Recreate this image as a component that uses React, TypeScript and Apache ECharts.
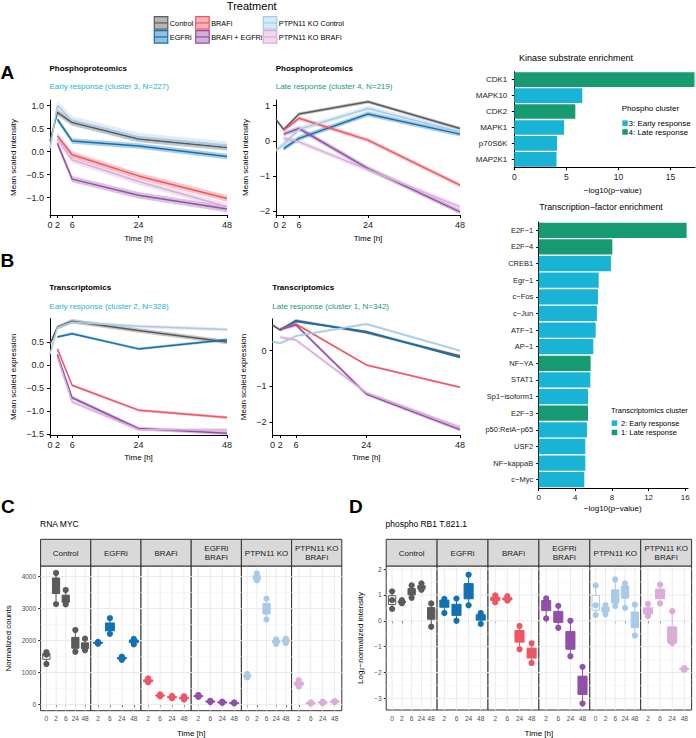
import React, { useEffect, useRef } from "react";
import * as echarts from "echarts";

const FONT = "'Liberation Sans', Arial, Helvetica, sans-serif";
const MINUS = "\u2212";

// ---------------- data ----------------
const TREATMENTS = ["Control", "EGFRi", "BRAFi", "BRAFi + EGFRi", "PTPN11 KO Control", "PTPN11 KO BRAFi"];
const TREATMENT_COLORS = ["#5b5b5b", "#1271b3", "#ee5664", "#9250a9", "#a9cae6", "#d9add7"];
const IS_CONTROL = [true, false, false, false, true, false];
const CONTROL_TIMES = [0, 2, 6, 24, 48];
const TREATED_TIMES = [2, 6, 24, 48];
const TIME_TICKS = [0, 2, 6, 24, 48];

// mean scaled profiles (controls: 0,2,6,24,48 h; treated: 2,6,24,48 h)
const PHOS_EARLY_MEAN = [
  [0.22, 0.85, 0.63, 0.27, 0.09],
  [0.7, 0.23, 0.12, -0.11],
  [0.34, -0.07, -0.53, -1.02],
  [0.18, -0.6, -0.95, -1.25],
  [0.07, 1.0, 0.67, 0.31, 0.12],
  [0.27, -0.18, -0.65, -1.2],
];
const PHOS_EARLY_BAND = [0.07, 0.06, 0.07, 0.07, 0.1, 0.07];

const PHOS_LATE_MEAN = [
  [0.61, 0.32, 0.76, 1.11, 0.35],
  [-0.22, 0.07, 0.76, 0.19],
  [0.3, 0.64, 0.02, -1.26],
  [0.19, 0.35, -0.79, -2.02],
  [-0.27, -0.1, 0.33, 0.92, 0.26],
  [0.07, -0.03, -0.82, -1.88],
];
const PHOS_LATE_BAND = [0.05, 0.07, 0.06, 0.07, 0.08, 0.07];

const TRANS_EARLY_MEAN = [
  [0.46, 0.82, 0.95, 0.75, 0.5],
  [0.61, 0.68, 0.35, 0.55],
  [0.35, -0.44, -0.98, -1.14],
  [0.23, -0.71, -1.38, -1.48],
  [0.24, 0.81, 0.93, 0.84, 0.77],
  [0.17, -0.8, -1.4, -1.41],
];
const TRANS_EARLY_BAND = [0.05, 0.03, 0.03, 0.04, 0.04, 0.04];

const TRANS_LATE_MEAN = [
  [0.72, 0.58, 0.85, 0.51, -0.15],
  [0.6, 0.82, 0.54, -0.19],
  [0.6, 0.75, -0.4, -1.03],
  [0.6, 0.72, -1.22, -2.22],
  [0.25, 0.21, 0.41, 0.75, 0.0],
  [0.38, 0.3, -1.18, -2.15],
];
const TRANS_LATE_BAND = [0.04, 0.03, 0.03, 0.05, 0.04, 0.05];

// enrichment
const CLUSTER_COLORS = ["#19b3d6", "#159a72"]; // early, late
const KINASES = ["CDK1", "MAPK10", "CDK2", "MAPK1", "p70S6K", "MAP2K1"];
const KINASE_LOGP = [17.3, 6.53, 5.86, 4.78, 4.11, 4.05];
const KINASE_CLUSTER = [1, 0, 1, 0, 0, 0];
const PHOS_CLUSTER_LABELS = ["3: Early response", "4: Late response"];

const TFS = ["E2F\u22121", "E2F\u22124", "CREB1", "Egr\u22121", "c\u2212Fos", "c\u2212Jun", "ATF\u22121", "AP\u22121", "NF\u2212YA", "STAT1", "Sp1\u2212isoform1", "E2F\u22123", "p50:RelA\u2212p65", "USF2", "NF\u2212kappaB", "c\u2212Myc"];
const TF_LOGP = [16.15, 8.04, 7.89, 6.55, 6.47, 6.36, 6.22, 5.96, 5.67, 5.64, 5.38, 5.38, 5.27, 5.09, 5.09, 4.98];
const TF_CLUSTER = [1, 1, 0, 0, 0, 0, 0, 0, 1, 0, 0, 1, 0, 0, 0, 0];
const TRANS_CLUSTER_LABELS = ["2: Early response", "1: Late response"];

// facets (C, D)
const FACETS = ["Control", "EGFRi", "BRAFi", "EGFRi\nBRAFi", "PTPN11 KO", "PTPN11 KO\nBRAFi"];
const FACET_TIMES = [CONTROL_TIMES, TREATED_TIMES, TREATED_TIMES, TREATED_TIMES, CONTROL_TIMES, TREATED_TIMES];
const MYC_COUNTS = [
  [[1270, 1560, 1640], [3140, 3800, 4110], [3130, 3260, 3580], [1650, 1870, 2330], [1700, 1800, 2060]],
  [[1900, 1930, 1960], [2210, 2400, 2700], [1400, 1450, 1500], [1880, 1990, 2050]],
  [[700, 730, 820], [260, 280, 320], [200, 230, 270], [160, 200, 260]],
  [[240, 260, 300], [80, 100, 120], [60, 75, 90], [40, 55, 70]],
  [[850, 900, 960], [3880, 3950, 4100], [2660, 3000, 3310], [1900, 1960, 2040], [1920, 1990, 2060]],
  [[560, 650, 760], [30, 50, 70], [50, 70, 90], [80, 100, 110]],
];
const RB1_LOG2 = [
  [[0.46, 0.8, 1.14], [0.68, 0.73, 0.8], [0.89, 1.12, 1.37], [1.2, 1.27, 1.45], [-0.23, 0.35, 0.67]],
  [[0.3, 0.75, 0.85], [0.0, 0.42, 0.86], [0.6, 1.1, 1.78], [-0.12, 0.17, 0.3]],
  [[0.72, 0.85, 0.98], [0.78, 0.83, 0.95], [-1.1, -0.55, -0.2], [-1.63, -1.25, -0.87]],
  [[0.09, 0.7, 0.87], [-0.27, 0.15, 0.58], [-1.37, -0.83, 0.0], [-3.2, -2.5, -1.78]],
  [[0.22, 0.6, 1.37], [0.25, 0.45, 0.6], [0.57, 0.8, 1.6], [0.5, 1.25, 1.45], [-0.57, 0.05, 0.63]],
  [[0.18, 0.35, 0.65], [0.67, 1.05, 1.4], [-0.86, -0.84, 0.37], [-1.9, -1.86, -1.83]],
];
const MYC_TICKS = [0, 1000, 2000, 3000, 4000];
const MYC_MINOR = [500, 1500, 2500, 3500];
const RB1_TICKS = [-3, -2, -1, 0, 1, 2];
const RB1_MINOR = [-2.5, -1.5, -0.5, 0.5, 1.5];

// ---------------- helpers ----------------
function rgba(hex: string, a: number) {
  const n = parseInt(hex.slice(1), 16);
  return `rgba(${(n >> 16) & 255},${(n >> 8) & 255},${n & 255},${a})`;
}
const fmt = (v: number, d: number) => (v < 0 ? MINUS : "") + Math.abs(v).toFixed(d);
function q7(s: number[], p: number) {
  const h = (s.length - 1) * p;
  const lo = Math.floor(h);
  const hi = Math.min(lo + 1, s.length - 1);
  return s[lo] + (h - lo) * (s[hi] - s[lo]);
}
function boxStats(vals: number[]) {
  const s = [...vals].sort((a, b) => a - b);
  const q1 = q7(s, 0.25), med = q7(s, 0.5), q3 = q7(s, 0.75);
  const iqr = q3 - q1;
  const lo = Math.min(...s.filter((v) => v >= q1 - 1.5 * iqr));
  const hi = Math.max(...s.filter((v) => v <= q3 + 1.5 * iqr));
  return [lo, q1, med, q3, hi];
}

function buildOption(): any {
  const grid: any[] = [];
  const xAxis: any[] = [];
  const yAxis: any[] = [];
  const series: any[] = [];
  const elements: any[] = [];
  const T = (text: string, x: number, y: number, o: any = {}) =>
    elements.push({
      type: "text", x, y, rotation: o.rot || 0, silent: true, z: 50,
      style: {
        text, fill: o.color || "#000", fontSize: o.size || 8, fontFamily: FONT,
        fontWeight: o.bold ? "bold" : "normal", textAlign: o.align || "left",
        textVerticalAlign: o.valign || "middle", lineHeight: o.lh,
      },
    });

  // ---------- top legend ----------
  T("Treatment", 251.7, 6, { size: 11, align: "center" });
  const LEG_X = [154.3, 195.7, 263.3];
  const LEG_Y = [16.7, 30.7];
  TREATMENTS.forEach((name, i) => {
    const x = LEG_X[Math.floor(i / 2)], y = LEG_Y[i % 2], c = TREATMENT_COLORS[i];
    elements.push({ type: "rect", silent: true, z: 50, shape: { x, y, width: 13.5, height: 12.5 }, style: { fill: rgba(c, 0.45), stroke: c, lineWidth: 1.2 } });
    elements.push({ type: "line", silent: true, z: 51, shape: { x1: x, y1: y + 6.25, x2: x + 13.5, y2: y + 6.25 }, style: { stroke: c, lineWidth: 1.2 } });
    T(name, x + 15.5, y + 6.5, { size: 7.3 });
  });

  // panel letters
  T("A", 0.5, 72, { size: 19, bold: true });
  T("B", 0.5, 260.5, { size: 19, bold: true });
  T("C", 1, 506, { size: 19, bold: true });
  T("D", 349, 506, { size: 19, bold: true });

  // ---------- line panels ----------
  const LINE_PANELS = [
    { title: "Phosphoproteomics", subtitle: "Early response (cluster 3, N=227)", cluster: 0, yTitle: "Mean scaled intensity", mean: PHOS_EARLY_MEAN, band: PHOS_EARLY_BAND, yRange: [-1.38, 1.12], yTicks: [-1, -0.5, 0, 0.5, 1], dec: 1 },
    { title: "Phosphoproteomics", subtitle: "Late response (cluster 4, N=219)", cluster: 1, yTitle: "Mean scaled intensity", mean: PHOS_LATE_MEAN, band: PHOS_LATE_BAND, yRange: [-2.11, 1.16], yTicks: [-2, -1, 0, 1], dec: 0 },
    { title: "Transcriptomics", subtitle: "Early response (cluster 2, N=328)", cluster: 0, yTitle: "Mean scaled expression", mean: TRANS_EARLY_MEAN, band: TRANS_EARLY_BAND, yRange: [-1.52, 1.01], yTicks: [-1.5, -1, -0.5, 0, 0.5], dec: 1 },
    { title: "Transcriptomics", subtitle: "Late response (cluster 1, N=342)", cluster: 1, yTitle: "Mean scaled expression", mean: TRANS_LATE_MEAN, band: TRANS_LATE_BAND, yRange: [-2.37, 0.89], yTicks: [-2, -1, 0], dec: 0 },
  ];
  const LINE_LAYOUT = [
    { box: [50, 100, 177, 115], title: [49.5, 68], sub: 86.5, yTitleX: 13, xTitleY: 238 },
    { box: [276, 100, 184, 115], title: [275.7, 68], sub: 86.5, yTitleX: 245, xTitleY: 238 },
    { box: [50, 318.5, 177, 116.5], title: [49.3, 287.7], sub: 306, yTitleX: 13.3, xTitleY: 457 },
    { box: [272.5, 319, 187.5, 116], title: [272.3, 287.7], sub: 306, yTitleX: 243.3, xTitleY: 457 },
  ];
  LINE_PANELS.forEach((p, k) => {
    const L = LINE_LAYOUT[k];
    const gi = grid.length;
    grid.push({ left: L.box[0], top: L.box[1], width: L.box[2], height: L.box[3] });
    xAxis.push({
      gridIndex: gi, type: "value", min: 0, max: 48,
      axisLine: { show: true, onZero: false, lineStyle: { color: "#000", width: 1 } },
      axisTick: { show: true, length: 3, customValues: TIME_TICKS, lineStyle: { color: "#000" } },
      axisLabel: { customValues: TIME_TICKS, fontSize: 9, color: "#222", fontFamily: FONT, margin: 5 },
      splitLine: { show: false },
    });
    yAxis.push({
      gridIndex: gi, type: "value", min: p.yRange[0], max: p.yRange[1],
      axisLine: { show: true, onZero: false, lineStyle: { color: "#000", width: 1 } },
      axisTick: { show: true, length: 3, customValues: p.yTicks, lineStyle: { color: "#000" } },
      axisLabel: { customValues: p.yTicks, formatter: (v: number) => fmt(v, p.dec), fontSize: 9, color: "#222", fontFamily: FONT, margin: 6 },
      splitLine: { show: false },
    });
    const ax = xAxis.length - 1, ay = yAxis.length - 1;
    TREATMENTS.forEach((name, i) => {
      const times = IS_CONTROL[i] ? CONTROL_TIMES : TREATED_TIMES;
      const m = p.mean[i], w = p.band[i], c = TREATMENT_COLORS[i];
      series.push({
        type: "custom", xAxisIndex: ax, yAxisIndex: ay, z: 2, silent: true, clip: true,
        data: [[times[0], m[0]]],
        renderItem: (_params: any, api: any) => {
          const pts: number[][] = [];
          times.forEach((t, j) => pts.push(api.coord([t, m[j] + w])));
          for (let j = times.length - 1; j >= 0; j--) pts.push(api.coord([times[j], m[j] - w]));
          return { type: "polygon", shape: { points: pts }, style: { fill: rgba(c, 0.35) } };
        },
      });
    });
    TREATMENTS.forEach((name, i) => {
      const times = IS_CONTROL[i] ? CONTROL_TIMES : TREATED_TIMES;
      const m = p.mean[i], c = TREATMENT_COLORS[i];
      series.push({
        type: "line", name, xAxisIndex: ax, yAxisIndex: ay, z: 3, silent: true, symbol: "none",
        data: times.map((t, j) => [t, m[j]]), lineStyle: { color: c, width: 1.5 }, itemStyle: { color: c },
      });
    });
    T(p.title, L.title[0], L.title[1], { size: 8, bold: true });
    T(p.subtitle, L.title[0], L.sub, { size: 8, color: CLUSTER_COLORS[p.cluster] });
    T(p.yTitle, L.yTitleX, L.box[1] + L.box[3] / 2, { size: 8, align: "center", rot: Math.PI / 2 });
    T("Time [h]", L.box[0] + L.box[2] / 2, L.xTitleY, { size: 8, align: "center" });
  });

  // ---------- enrichment bars ----------
  const BAR_PANELS = [
    { title: "Kinase substrate enrichment", cats: KINASES, vals: KINASE_LOGP, cl: KINASE_CLUSTER, xMax: 17.35, xTicks: [0, 5, 10, 15], legendTitle: "Phospho cluster", legendLabels: PHOS_CLUSTER_LABELS },
    { title: "Transcription\u2212factor enrichment", cats: TFS, vals: TF_LOGP, cl: TF_CLUSTER, xMax: 16.3, xTicks: [0, 4, 8, 12, 16], legendTitle: "Transcriptomics cluster", legendLabels: TRANS_CLUSTER_LABELS },
  ];
  const BAR_LAYOUT = [
    { box: [514.3, 71.7, 180.7, 95.6], title: [576, 57.5], xTitle: [612.7, 190.7], catSize: 8, tickSize: 8.5, catMargin: 7, legTitle: [621.7, 108.3], legY: [123.2, 132], legX: 622.3, legTextX: 628.5, legSize: 8, titleSize: 9 },
    { box: [538.7, 222, 149.3, 266], title: [601, 207.3], xTitle: [612.7, 508.3], catSize: 7.5, tickSize: 8, catMargin: 5.5, legTitle: [611, 410.7], legY: [423.2, 432.5], legX: 611.7, legTextX: 621, legSize: 7.5, titleSize: 8.8 },
  ];
  BAR_PANELS.forEach((p, k) => {
    const L = BAR_LAYOUT[k];
    const gi = grid.length;
    grid.push({ left: L.box[0], top: L.box[1], width: L.box[2], height: L.box[3] });
    xAxis.push({
      gridIndex: gi, type: "value", min: 0, max: p.xMax,
      axisLine: { show: true, onZero: false, lineStyle: { color: "#000" } },
      axisTick: { show: true, length: 3, customValues: p.xTicks, lineStyle: { color: "#000" } },
      axisLabel: { customValues: p.xTicks, fontSize: L.tickSize, color: "#222", fontFamily: FONT, margin: 5 },
      splitLine: { show: false },
    });
    yAxis.push({
      gridIndex: gi, type: "category", data: p.cats, inverse: true,
      axisLine: { show: true, onZero: false, lineStyle: { color: "#000" } },
      axisTick: { show: true, length: 2.5, alignWithLabel: true, lineStyle: { color: "#000" } },
      axisLabel: { interval: 0, fontSize: L.catSize, color: "#222", fontFamily: FONT, margin: L.catMargin },
    });
    series.push({
      type: "bar", xAxisIndex: xAxis.length - 1, yAxisIndex: yAxis.length - 1, silent: true, barCategoryGap: "8%", z: 2,
      data: p.vals.map((v, i) => ({ value: v, itemStyle: { color: CLUSTER_COLORS[p.cl[i]] } })),
    });
    T(p.title, L.title[0], L.title[1], { size: L.titleSize, align: "center" });
    T("\u2212log10(p\u2212value)", L.xTitle[0], L.xTitle[1], { size: 8, align: "center" });
    T(p.legendTitle, L.legTitle[0], L.legTitle[1], { size: L.legSize });
    p.legendLabels.forEach((lab, i) => {
      elements.push({ type: "rect", silent: true, z: 50, shape: { x: L.legX, y: L.legY[i] - 2.8, width: 5.5, height: 5.5 }, style: { fill: CLUSTER_COLORS[i] } });
      T(lab, L.legTextX, L.legY[i], { size: L.legSize });
    });
  });

  // ---------- facet box plots ----------
  const FACET_BLOCKS = [
    { title: "RNA MYC", yTitle: "Normalized counts", values: MYC_COUNTS, yRange: [-190, 4330], ticks: MYC_TICKS, minor: MYC_MINOR, dec: 0 },
    { title: "phospho RB1 T.821.1", yTitle: "Log\u2082\u2212normalized intensity", values: RB1_LOG2, yRange: [-3.45, 2.12], ticks: RB1_TICKS, minor: RB1_MINOR, dec: 0 },
  ];
  const FACET_LAYOUT = [
    { left: 40.6, w: 50.2, top: 566, h: 144.7, stripTop: 539.3, titleX: 40, yTitleX: 8.5 },
    { left: 386.2, w: 50.9, top: 566, h: 144, stripTop: 539.3, titleX: 385.5, yTitleX: 360 },
  ];
  FACET_BLOCKS.forEach((b, k) => {
    const L = FACET_LAYOUT[k];
    FACETS.forEach((fname, i) => {
      const times = FACET_TIMES[i];
      const n = times.length;
      const pos = times.map((_, j) => j + 1);
      const c = TREATMENT_COLORS[i];
      const gx = L.left + i * L.w;
      const gi = grid.length;
      grid.push({ left: gx, top: L.top, width: L.w, height: L.h, show: true, backgroundColor: "#fff", borderColor: "#333", borderWidth: 1 });
      xAxis.push({
        gridIndex: gi, type: "value", min: 0.4, max: n + 0.6,
        axisLine: { show: false },
        axisTick: { show: true, length: 2.5, customValues: pos, lineStyle: { color: "#333" } },
        axisLabel: { customValues: pos, formatter: (v: number) => String(times[Math.round(v) - 1]), fontSize: 6.5, color: "#4d4d4d", fontFamily: FONT, margin: 4.5 },
        splitLine: { show: false },
      });
      yAxis.push({
        gridIndex: gi, type: "value", min: b.yRange[0], max: b.yRange[1],
        axisLine: { show: false },
        axisTick: { show: i === 0, length: 2.5, customValues: b.ticks, lineStyle: { color: "#333" } },
        axisLabel: { show: i === 0, customValues: b.ticks, formatter: (v: number) => fmt(v, b.dec), fontSize: 6.5, color: "#4d4d4d", fontFamily: FONT, margin: 4.5 },
        splitLine: { show: false },
      });
      const ax = xAxis.length - 1, ay = yAxis.length - 1;
      // grid lines
      const gl: number[][] = [];
      b.ticks.forEach((v) => gl.push([v, 0]));
      b.minor.forEach((v) => gl.push([v, 1]));
      pos.forEach((v) => gl.push([v, 2]));
      series.push({
        type: "custom", xAxisIndex: ax, yAxisIndex: ay, z: 1, silent: true,
        data: gl,
        renderItem: (params: any, api: any) => {
          const cs = params.coordSys;
          const v = api.value(0), kind = api.value(1);
          if (kind === 2) {
            const px = api.coord([v, b.yRange[0]])[0];
            return { type: "line", shape: { x1: px, y1: cs.y, x2: px, y2: cs.y + cs.height }, style: { stroke: "#ebebeb", lineWidth: 1 } };
          }
          const py = api.coord([1, v])[1];
          return { type: "line", shape: { x1: cs.x, y1: py, x2: cs.x + cs.width, y2: py }, style: { stroke: kind === 0 ? "#ebebeb" : "#f3f3f3", lineWidth: kind === 0 ? 1 : 0.6 } };
        },
      });
      // boxes
      const boxData = b.values[i].map((reps, j) => [j + 1, ...boxStats(reps), times[j] === 0 ? 1 : 0]);
      series.push({
        type: "custom", xAxisIndex: ax, yAxisIndex: ay, z: 2, silent: true,
        data: boxData,
        renderItem: (_params: any, api: any) => {
          const x = api.value(0);
          const lo = api.coord([x, api.value(1)]);
          const q1 = api.coord([x, api.value(2)]);
          const md = api.coord([x, api.value(3)]);
          const q3 = api.coord([x, api.value(4)]);
          const hi = api.coord([x, api.value(5)]);
          const white = api.value(6) === 1;
          const bw = api.size([0.75, 0])[0];
          return {
            type: "group",
            children: [
              { type: "line", shape: { x1: lo[0], y1: lo[1], x2: hi[0], y2: hi[1] }, style: { stroke: c, lineWidth: 1 } },
              { type: "rect", shape: { x: q1[0] - bw / 2, y: q3[1], width: bw, height: Math.max(q1[1] - q3[1], 1) }, style: { fill: white ? "#fff" : c, stroke: c, lineWidth: 1 } },
              { type: "line", shape: { x1: q1[0] - bw / 2, y1: md[1], x2: q1[0] + bw / 2, y2: md[1] }, style: { stroke: c, lineWidth: 1.4 } },
            ],
          };
        },
      });
      // replicate points
      const pts: number[][] = [];
      b.values[i].forEach((reps, j) => reps.forEach((v) => pts.push([j + 1, v])));
      series.push({
        type: "scatter", xAxisIndex: ax, yAxisIndex: ay, z: 3, silent: true,
        symbol: "circle", symbolSize: 6.2, itemStyle: { color: c, opacity: 1 }, data: pts,
      });
      // strip
      elements.push({ type: "rect", silent: true, z: 40, shape: { x: gx, y: L.stripTop, width: L.w, height: L.top - L.stripTop }, style: { fill: "#d9d9d9", stroke: "#333", lineWidth: 1 } });
      T(fname, gx + L.w / 2, (L.stripTop + L.top) / 2 + 0.5, { size: 8, align: "center", color: "#1a1a1a", lh: 8.6 });
    });
    T(b.title, L.titleX, 524, { size: 8.5 });
    T(b.yTitle, L.yTitleX, L.top + L.h / 2, { size: 8, align: "center", rot: Math.PI / 2 });
    T("Time [h]", L.left + 3 * L.w, 733, { size: 8, align: "center" });
  });

  return {
    animation: false,
    backgroundColor: "#fff",
    textStyle: { fontFamily: FONT },
    grid, xAxis, yAxis, series,
    graphic: { elements },
  };
}

export default function App() {
  const ref = useRef<HTMLDivElement>(null);
  useEffect(() => {
    if (!ref.current) return;
    const chart = echarts.init(ref.current, null, { renderer: "svg" });
    chart.setOption(buildOption());
    return () => chart.dispose();
  }, []);
  return <div ref={ref} style={{ position: "absolute", left: 0, top: 0, width: 696, height: 738, background: "#fff" }} />;
}
